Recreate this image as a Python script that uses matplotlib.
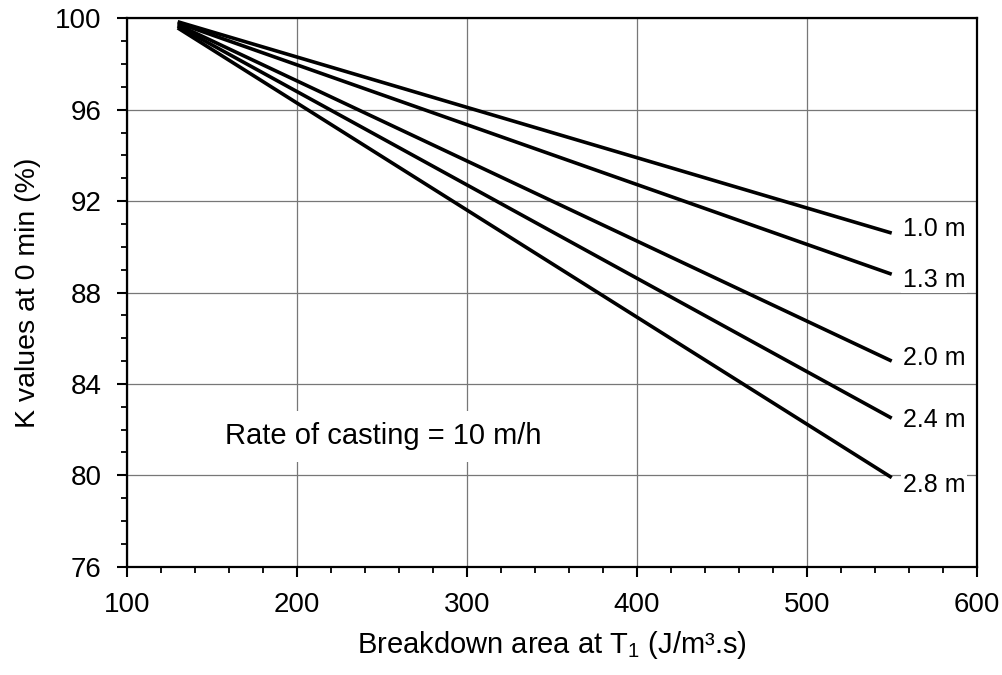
import numpy as np
import matplotlib
matplotlib.use("Agg")
import matplotlib.pyplot as plt
from matplotlib.ticker import MultipleLocator

plt.rcParams['font.family'] = ['Liberation Sans', 'DejaVu Sans']

# data
x_range = [130, 550]
labels = ["1.0 m", "1.3 m", "2.0 m", "2.4 m", "2.8 m"]
k_start = [99.85, 99.8, 99.72, 99.66, 99.58]
k_end = [90.6, 88.8, 85.0, 82.5, 79.9]
label_y = [90.8, 88.55, 85.13, 82.42, 79.58]

fig = plt.figure(figsize=(10.03, 6.75), dpi=100)
ax = fig.add_axes([0.1263, 0.1604, 0.8475, 0.8125])

for lab, y0, y1, ly in zip(labels, k_start, k_end, label_y):
    ax.plot(x_range, [y0, y1], color="black", lw=2.6, solid_capstyle="butt", zorder=3)
    ax.text(556.5, ly, lab, fontsize=18, va="center", ha="left", zorder=4,
            bbox=dict(facecolor="white", edgecolor="none", pad=1))

ax.text(158, 81.7, "Rate of casting = 10 m/h", fontsize=21, va="center", ha="left",
        zorder=4, bbox=dict(facecolor="white", edgecolor="none", pad=8))

ax.set_xlim(100, 600)
ax.set_ylim(76, 100)
ax.xaxis.set_major_locator(MultipleLocator(100))
ax.xaxis.set_minor_locator(MultipleLocator(20))
ax.yaxis.set_major_locator(MultipleLocator(4))
ax.yaxis.set_minor_locator(MultipleLocator(1))
ax.grid(True, which="major", color="#777777", lw=0.9, zorder=1)
ax.set_axisbelow(True)

for s in ax.spines.values():
    s.set_linewidth(1.6)
ax.tick_params(which="major", direction="out", length=7, width=1.5, labelsize=20, pad=11)
ax.tick_params(which="minor", direction="out", length=4, width=1.3)

ax.set_xlabel("Breakdown area at T$_\\mathregular{1}$ (J/m³.s)", fontsize=21, labelpad=8)
ax.set_ylabel("K values at 0 min (%)", fontsize=20.5, labelpad=10)

fig.savefig("out.png", dpi=100)
